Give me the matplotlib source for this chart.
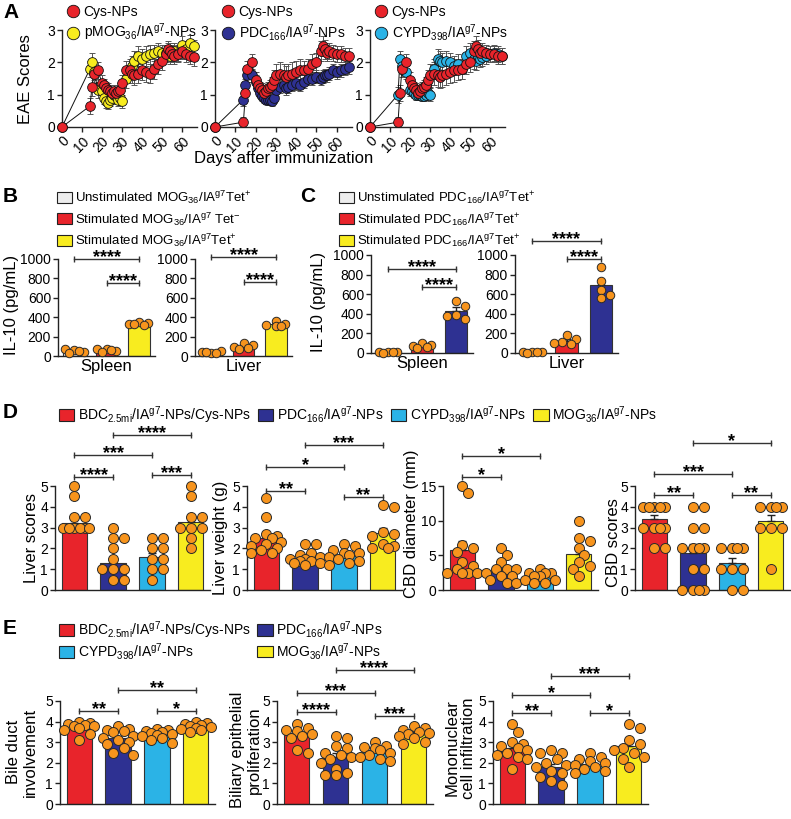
import matplotlib
matplotlib.use('Agg')
import numpy as np
import matplotlib.pyplot as plt
from matplotlib.patches import Patch
from matplotlib.lines import Line2D

plt.rcParams['font.family'] = ['Liberation Sans', 'DejaVu Sans']
plt.rcParams['mathtext.default'] = 'regular'

RED = '#E8242B'
NAVY = '#2E3192'
CYAN = '#2BB3E6'
YELLOW = '#F8EC1F'
GREY = '#EDEDED'
ORANGE = '#F7941D'
EDGE = '#333333'

# ---------------- panel A: EAE scores ----------------
eae_days = [0, 14, 15, 16, 18, 20, 21, 22, 23, 24, 25, 26, 27, 28, 29, 30, 32, 34, 35,
            36, 38, 40, 42, 44, 46, 48, 50, 52, 53, 54, 55, 56, 58, 60, 62, 64, 66]
eae_xticks = [0, 10, 20, 30, 40, 50, 60]
eae_yticks = [0, 1, 2, 3]

cys_a = [0, 0.65, 1.25, 1.65, 1.75, 1.35, 1.3, 1.2, 1.15, 1.1, 1.05, 1.1, 1.05, 1.1, 1.15, 1.35, 1.75, 1.75, 1.65,
         1.6, 1.65, 1.75, 1.7, 1.65, 1.8, 1.95, 2.05, 2.25, 2.4, 2.35, 2.25, 2.2, 2.25, 2.35, 2.25, 2.2, 2.15]
cys_a_sem = [0, 0.25, 0.3, 0.3, 0.25, 0.25, 0.2, 0.2, 0.2, 0.2, 0.2, 0.2, 0.2, 0.2, 0.2, 0.25, 0.3, 0.3, 0.3,
             0.3, 0.3, 0.3, 0.3, 0.3, 0.3, 0.3, 0.3, 0.25, 0.25, 0.25, 0.25, 0.25, 0.25, 0.25, 0.25, 0.25, 0.25]
pmog = [0, 1.8, 2.0, 1.7, 1.15, 1.1, 0.9, 0.8, 0.75, 0.85, 0.9, 1.0, 0.95, 0.85, 0.9, 0.8, 1.5, 1.8, 1.9,
        2.05, 2.2, 2.1, 2.2, 2.25, 2.3, 2.35, 2.3, 2.3, 2.35, 2.2, 2.3, 2.35, 2.3, 2.55, 2.4, 2.6, 2.5]
pmog_sem = [0, 0.25, 0.3, 0.25, 0.25, 0.2, 0.2, 0.2, 0.2, 0.2, 0.2, 0.2, 0.2, 0.2, 0.2, 0.2, 0.3, 0.3, 0.3,
            0.3, 0.3, 0.3, 0.3, 0.3, 0.25, 0.25, 0.25, 0.25, 0.25, 0.25, 0.25, 0.25, 0.25, 0.25, 0.25, 0.25, 0.2]
cys_b = [0, 0.15, 1.05, 1.8, 2.0, 1.45, 1.3, 1.2, 1.15, 1.05, 1.1, 1.2, 1.25, 1.3, 1.45, 1.6, 1.65, 1.6, 1.55,
         1.6, 1.65, 1.7, 1.75, 1.75, 1.8, 1.95, 2.0, 2.35, 2.5, 2.4, 2.3, 2.35, 2.3, 2.25, 2.25, 2.2, 2.2]
cys_b_sem = [0, 0.15, 0.25, 0.25, 0.25, 0.25, 0.2, 0.2, 0.2, 0.2, 0.2, 0.2, 0.2, 0.25, 0.3, 0.35, 0.35, 0.35, 0.35,
             0.35, 0.35, 0.35, 0.35, 0.3, 0.3, 0.3, 0.3, 0.3, 0.3, 0.3, 0.25, 0.25, 0.25, 0.25, 0.25, 0.25, 0.25]
pdc = [0, 0.85, 1.3, 1.6, 1.6, 1.4, 1.2, 1.05, 0.95, 0.9, 0.85, 0.85, 0.85, 0.8, 0.9, 1.15, 1.25, 1.3, 1.2,
       1.25, 1.3, 1.35, 1.3, 1.4, 1.5, 1.5, 1.55, 1.5, 1.55, 1.6, 1.6, 1.65, 1.75, 1.7, 1.75, 1.8, 1.85]
pdc_sem = [0, 0.2, 0.2, 0.2, 0.2, 0.2, 0.15, 0.15, 0.15, 0.15, 0.15, 0.15, 0.15, 0.15, 0.15, 0.2, 0.2, 0.2, 0.2,
           0.2, 0.2, 0.2, 0.2, 0.2, 0.2, 0.2, 0.2, 0.2, 0.2, 0.2, 0.2, 0.2, 0.2, 0.2, 0.2, 0.2, 0.2]
cypd = [0, 1.0, 2.1, 1.9, 1.7, 1.15, 1.1, 1.05, 1.0, 1.0, 1.0, 0.95, 0.95, 1.0, 1.05, 1.0, 1.8, 2.1, 2.05,
        2.0, 2.05, 2.0, 1.9, 1.95, 1.8, 2.2, 2.3, 2.1, 2.05, 2.2, 2.1, 2.15, 2.2, 2.25, 2.3, 2.25, 2.2]
cypd_sem = [0, 0.25, 0.25, 0.25, 0.2, 0.2, 0.15, 0.15, 0.15, 0.15, 0.15, 0.15, 0.15, 0.15, 0.15, 0.2, 0.3, 0.3, 0.3,
            0.3, 0.3, 0.3, 0.3, 0.3, 0.3, 0.3, 0.3, 0.3, 0.3, 0.25, 0.25, 0.25, 0.25, 0.25, 0.25, 0.25, 0.25]

# ---------------- panels B / C: IL-10 ----------------
il10_yticks = [0, 200, 400, 600, 800, 1000]
organs = ['Spleen', 'Liver']
b_spleen_mean = [55, 60, 330]
b_spleen_sem = [8, 8, 8]
b_spleen_pts = [[60, 45, 70, 35, 55], [75, 55, 70, 45, 60], [350, 340, 325, 315, 335]]
b_liver_mean = [40, 95, 325]
b_liver_sem = [6, 10, 12]
b_liver_pts = [[35, 50, 45, 30, 40], [130, 110, 95, 80, 70], [365, 335, 320, 305, 310]]
c_spleen_mean = [8, 72, 430]
c_spleen_sem = [2, 8, 35]
c_spleen_pts = [[12, 8, 10, 5, 6], [100, 85, 75, 60, 50], [530, 480, 385, 345, 375]]
c_liver_mean = [10, 127, 690]
c_liver_sem = [2, 15, 55]
c_liver_pts = [[12, 8, 15, 5, 10], [185, 140, 115, 100, 95], [880, 730, 640, 590, 560]]

# ---------------- panel D ----------------
liver_scores_mean = [3.2, 1.3, 1.6, 3.25]
liver_scores_sem = [0.2, 0.25, 0.2, 0.3]
liver_scores_pts = [[5.0, 4.5, 3.5, 3.5, 3.0, 3.0, 3.0, 3.0, 3.0, 3.0],
                    [3.0, 2.5, 2.5, 2.0, 1.5, 1.0, 1.0, 1.0, 0.5, 0.5],
                    [2.5, 2.5, 2.0, 2.0, 1.5, 1.5, 1.0, 1.0, 0.5],
                    [5.0, 4.5, 3.5, 3.5, 3.0, 3.0, 3.0, 2.5, 2.0]]
liver_weight_mean = [2.5, 1.55, 1.7, 2.75]
liver_weight_sem = [0.2, 0.08, 0.08, 0.25]
liver_weight_pts = [[4.4, 3.5, 2.7, 2.6, 2.5, 2.5, 2.3, 2.2, 2.1, 2.0, 1.9, 1.8, 1.8],
                    [2.2, 2.2, 1.8, 1.7, 1.6, 1.5, 1.5, 1.4, 1.4, 1.3, 1.3, 1.2],
                    [2.2, 2.1, 1.9, 1.8, 1.8, 1.7, 1.6, 1.5, 1.4, 1.3, 1.2],
                    [4.1, 4.0, 2.8, 2.7, 2.6, 2.2, 2.1, 2.0, 2.0]]
cbd_diam_mean = [5.8, 2.7, 1.9, 5.2]
cbd_diam_sem = [1.2, 0.45, 0.25, 0.8]
cbd_diam_pts = [[15, 14, 6.5, 6, 5.5, 4, 3.5, 3, 2.5, 2.5, 2.5, 2.5],
                [6, 5, 4, 3, 3, 3, 2.5, 2, 2, 1.5, 1, 1],
                [3, 2.5, 2.5, 2.5, 2, 2, 1.5, 1.5, 1, 1],
                [10, 7.5, 7, 6, 5, 4, 3.5, 3, 2]]
cbd_scores_mean = [3.4, 1.8, 1.3, 3.3]
cbd_scores_sem = [0.2, 0.4, 0.25, 0.3]
cbd_scores_pts = [[4, 4, 4, 4, 4, 3, 3, 3, 3, 2, 2],
                  [4, 4, 3, 3, 2, 2, 2, 2, 1, 1, 0, 0, 0, 0],
                  [2, 2, 2, 2, 1, 1, 1, 0, 0],
                  [4, 4, 4, 4, 3, 3, 3, 1]]

# ---------------- panel E ----------------
bile_mean = [3.75, 3.2, 3.4, 3.8]
bile_sem = [0.1, 0.12, 0.07, 0.06]
bile_pts = [[4.0, 3.95, 3.9, 3.85, 3.8, 3.8, 3.7, 3.6, 3.4, 3.1],
            [3.8, 3.65, 3.6, 3.55, 3.5, 3.3, 3.2, 3.1, 3.0, 2.9, 2.7, 2.5, 2.4],
            [3.65, 3.6, 3.55, 3.5, 3.45, 3.4, 3.35, 3.3, 3.2, 3.1, 2.95],
            [4.0, 3.95, 3.9, 3.85, 3.8, 3.75, 3.7, 3.65, 3.6, 3.5]]
biliary_mean = [3.35, 2.3, 2.55, 3.4]
biliary_sem = [0.15, 0.18, 0.09, 0.1]
biliary_pts = [[3.9, 3.7, 3.6, 3.55, 3.4, 3.3, 3.2, 2.6, 2.5],
               [3.3, 3.2, 2.8, 2.7, 2.5, 2.4, 2.3, 2.2, 2.0, 1.7, 1.5, 1.4, 1.4],
               [3.0, 2.8, 2.75, 2.7, 2.6, 2.5, 2.4, 2.3, 2.2, 2.1],
               [3.8, 3.7, 3.6, 3.5, 3.45, 3.4, 3.3, 3.2, 3.0, 2.9]]
mono_mean = [2.7, 1.8, 1.95, 2.8]
mono_sem = [0.15, 0.15, 0.08, 0.2]
mono_pts = [[3.9, 3.5, 3.0, 2.9, 2.8, 2.7, 2.6, 2.5, 2.4, 2.3, 2.2, 1.7],
            [2.6, 2.5, 2.5, 2.2, 2.0, 1.9, 1.8, 1.6, 1.5, 1.3, 1.1, 0.9],
            [2.5, 2.3, 2.2, 2.1, 2.0, 1.9, 1.8, 1.7, 1.6, 1.5],
            [3.9, 3.7, 3.1, 2.9, 2.7, 2.6, 2.5, 2.3, 2.2, 1.8]]
score_yticks = [0, 1, 2, 3, 4, 5]

group_labels = ['BDC$_{2.5mi}$/IA$^{g7}$-NPs/Cys-NPs', 'PDC$_{166}$/IA$^{g7}$-NPs',
                'CYPD$_{398}$/IA$^{g7}$-NPs', 'MOG$_{36}$/IA$^{g7}$-NPs']
group_colors = [RED, NAVY, CYAN, YELLOW]

W, H = 791, 819
fig = plt.figure(figsize=(W / 100, H / 100), dpi=100)
axes_px = {}


def add_ax(x0, x1, ytop, ybot):
    ax = fig.add_axes([x0 / W, 1 - ybot / H, (x1 - x0) / W, (ybot - ytop) / H])
    axes_px[ax] = (x1 - x0, ybot - ytop)
    ax.spines['top'].set_visible(False)
    ax.spines['right'].set_visible(False)
    for s in ('left', 'bottom'):
        ax.spines[s].set_linewidth(1.0)
        ax.spines[s].set_color('#222222')
    ax.tick_params(direction='out', length=3.5, width=1, color='#222222', labelsize=10, pad=1.5)
    return ax


def spread(vals, dy):
    # side-by-side offsets (in dot diameters) for dots with close values
    cands = [0, 0.55, -0.55, 1.1, -1.1, 1.5, -1.5]
    offs = []
    for k, v in enumerate(vals):
        best, best_d = 0, -1
        for c in cands:
            d = min([np.hypot(c - o, (v - w) / dy) for o, w in zip(offs, vals[:k])], default=9)
            if d >= 0.85:
                best = c
                break
            if d > best_d:
                best, best_d = c, d
        offs.append(best)
    return np.array(offs)


def bar_panel(ax, means, sems, points, colors, ymax, yticks, brackets, dot_px=10):
    n = len(means)
    x = np.arange(n)
    ax.set_xlim(-0.5, n - 0.5)
    ax.set_ylim(0, ymax)
    ax.bar(x, means, width=0.66, color=colors, edgecolor=EDGE, linewidth=0.8, zorder=1)
    ax.errorbar(x, means, yerr=[np.zeros(n), sems], fmt='none', ecolor='#222222',
                elinewidth=1, capsize=3, capthick=1, zorder=2)
    wpx, hpx = axes_px[ax]
    dx = dot_px * n / wpx
    dy = dot_px * ymax / hpx
    for i, vals in enumerate(points):
        offs = spread(vals, dy)
        ax.scatter(i + offs * dx, vals, s=(dot_px / 1.39) ** 2, color=ORANGE, edgecolor='#2a2a2a',
                   linewidth=0.7, zorder=3, clip_on=False)
    ax.set_xticks([])
    ax.set_yticks(yticks)
    for i, j, y, label in brackets:
        ax.plot([i, j], [y, y], color='#333333', lw=1, marker='|', ms=5, mew=1, clip_on=False)
        ax.annotate(label, ((i + j) / 2, y), xytext=(0, -2), textcoords='offset points',
                    ha='center', va='baseline', fontsize=13, fontweight='bold', annotation_clip=False)


def eae_panel(ax, treat, treat_sem, treat_color, cys, cys_sem, treat_label, leg_x):
    ax.set_xlim(0, 67.5)
    ax.set_ylim(0, 3)
    for vals, sem, col in ((treat, treat_sem, treat_color), (cys, cys_sem, RED)):
        ax.errorbar(eae_days, vals, yerr=sem, fmt='none', ecolor='#555555', elinewidth=0.7,
                    capsize=2, capthick=0.7, zorder=1)
        ax.plot(eae_days, vals, color='#111111', lw=0.7, zorder=2)
        ax.plot(eae_days, vals, 'o', ms=7, mfc=col, mec='#111111', mew=0.6, zorder=3, clip_on=False)
    ax.set_xticks(eae_xticks)
    ax.set_xticklabels([str(v) for v in eae_xticks], rotation=45, ha='right', rotation_mode='anchor',
                       fontsize=10)
    ax.set_yticks(eae_yticks)
    handles = [Line2D([], [], ls='none', marker='o', ms=9, mfc=RED, mec='#111111', mew=0.6),
               Line2D([], [], ls='none', marker='o', ms=9, mfc=treat_color, mec='#111111', mew=0.6)]
    fig.legend(handles, ['Cys-NPs', treat_label], loc='upper left', bbox_to_anchor=(leg_x / W, 1 - 5 / H),
               frameon=False, fontsize=10, handlelength=0.9, handletextpad=0.3, labelspacing=0.2,
               borderpad=0, borderaxespad=0)


# panel A
a1 = add_ax(62, 197, 30, 127)
eae_panel(a1, pmog, pmog_sem, YELLOW, cys_a, cys_a_sem, 'pMOG$_{36}$/IA$^{g7}$-NPs', 67)
a2 = add_ax(215, 352, 30, 127)
eae_panel(a2, pdc, pdc_sem, NAVY, cys_b, cys_b_sem, 'PDC$_{166}$/IA$^{g7}$-NPs', 222)
a3 = add_ax(370, 505, 30, 127)
eae_panel(a3, cypd, cypd_sem, CYAN, cys_b, cys_b_sem, 'CYPD$_{398}$/IA$^{g7}$-NPs', 375)
fig.text(26 / W, 1 - 79 / H, 'EAE Scores', rotation=90, ha='center', va='center', fontsize=12)
fig.text(284 / W, 1 - 158 / H, 'Days after immunization', ha='center', va='center', fontsize=12)


def box(c):
    return Patch(facecolor=c, edgecolor='#222222', linewidth=0.8)


# panel B
b_labels = ['Unstimulated MOG$_{36}$/IA$^{g7}$Tet$^{+}$', 'Stimulated MOG$_{36}$/IA$^{g7}$ Tet$^{-}$',
            'Stimulated MOG$_{36}$/IA$^{g7}$Tet$^{+}$']
fig.legend([box(GREY), box(RED), box(YELLOW)], b_labels, loc='upper left', bbox_to_anchor=(57 / W, 1 - 189 / H),
           frameon=False, fontsize=9.5, handlelength=1.1, handleheight=0.9, handletextpad=0.25,
           labelspacing=0.3, borderpad=0, borderaxespad=0)
bs = add_ax(58, 155, 259, 356)
bar_panel(bs, b_spleen_mean, b_spleen_sem, b_spleen_pts, [GREY, RED, YELLOW], 1000, il10_yticks,
          [(0, 2, 1000, '****'), (1, 2, 753, '****')], dot_px=8.5)
bl = add_ax(195, 292, 259, 356)
bar_panel(bl, b_liver_mean, b_liver_sem, b_liver_pts, [GREY, RED, YELLOW], 1000, il10_yticks,
          [(0, 2, 1020, '****'), (1, 2, 763, '****')], dot_px=8.5)

# panel C
c_labels = ['Unstimulated PDC$_{166}$/IA$^{g7}$Tet$^{+}$', 'Stimulated PDC$_{166}$/IA$^{g7}$Tet$^{+}$',
            'Stimulated PDC$_{166}$/IA$^{g7}$Tet$^{+}$']
fig.legend([box(GREY), box(RED), box(YELLOW)], c_labels, loc='upper left', bbox_to_anchor=(339 / W, 1 - 189 / H),
           frameon=False, fontsize=9.5, handlelength=1.1, handleheight=0.9, handletextpad=0.25,
           labelspacing=0.3, borderpad=0, borderaxespad=0)
cs = add_ax(371, 473, 255, 353)
bar_panel(cs, c_spleen_mean, c_spleen_sem, c_spleen_pts, [GREY, RED, NAVY], 1000, il10_yticks,
          [(0, 2, 857, '****'), (1, 2, 673, '****')], dot_px=8.5)
cl = add_ax(515, 618, 255, 353)
bar_panel(cl, c_liver_mean, c_liver_sem, c_liver_pts, [GREY, RED, NAVY], 1000, il10_yticks,
          [(0, 2, 1143, '****'), (1, 2, 959, '****')], dot_px=8.5)
for ax, organ in zip((bs, bl, cs, cl), organs * 2):
    ax.set_xlabel(organ, fontsize=12, labelpad=2)
fig.text(12 / W, 1 - 305 / H, 'IL-10 (pg/mL)', rotation=90, ha='center', va='center', fontsize=12)
fig.text(318 / W, 1 - 302 / H, 'IL-10 (pg/mL)', rotation=90, ha='center', va='center', fontsize=12)

# panel D
fig.legend([box(c) for c in group_colors], group_labels, loc='upper left', ncol=4,
           bbox_to_anchor=(59 / W, 1 - 404 / H), frameon=False, fontsize=10, handlelength=1.1,
           handleheight=0.9, handletextpad=0.25, columnspacing=0.55, borderpad=0, borderaxespad=0)
d1 = add_ax(55, 210, 486, 590)
bar_panel(d1, liver_scores_mean, liver_scores_sem, liver_scores_pts, group_colors, 5, score_yticks,
          [(0, 1, 5.43, '****'), (2, 3, 5.53, '***'), (0, 2, 6.49, '***'), (1, 3, 7.45, '****')])
d2 = add_ax(247, 402, 486, 590)
bar_panel(d2, liver_weight_mean, liver_weight_sem, liver_weight_pts, group_colors, 5, score_yticks,
          [(0, 1, 4.75, '**'), (2, 3, 4.47, '**'), (0, 2, 5.91, '*'), (1, 3, 6.97, '***')])
d3 = add_ax(443, 598, 486, 590)
bar_panel(d3, cbd_diam_mean, cbd_diam_sem, cbd_diam_pts, group_colors, 15, [0, 5, 10, 15],
          [(0, 1, 16.3, '*'), (0, 2, 19.3, '*')])
d4 = add_ax(635, 790, 486, 590)
bar_panel(d4, cbd_scores_mean, cbd_scores_sem, cbd_scores_pts, group_colors, 5, score_yticks,
          [(0, 1, 4.57, '**'), (2, 3, 4.57, '**'), (0, 2, 5.58, '***'), (1, 3, 7.07, '*')])
fig.text(32 / W, 1 - 538 / H, 'Liver scores', rotation=90, ha='center', va='center', fontsize=12)
fig.text(220 / W, 1 - 538 / H, 'Liver weight (g)', rotation=90, ha='center', va='center', fontsize=12)
fig.text(411 / W, 1 - 524 / H, 'CBD diameter (mm)', rotation=90, ha='center', va='center', fontsize=12)
fig.text(613 / W, 1 - 543 / H, 'CBD scores', rotation=90, ha='center', va='center', fontsize=12)

# panel E
e_order = [0, 2, 1, 3]
fig.legend([box(group_colors[i]) for i in e_order], [group_labels[i] for i in e_order], loc='upper left',
           ncol=2, bbox_to_anchor=(59 / W, 1 - 619 / H), frameon=False, fontsize=10, handlelength=1.1,
           handleheight=0.9, handletextpad=0.25, columnspacing=0.5, labelspacing=0.05,
           borderpad=0, borderaxespad=0)
e1 = add_ax(60, 215, 701, 804)
bar_panel(e1, bile_mean, bile_sem, bile_pts, group_colors, 5, score_yticks,
          [(0, 1, 4.51, '**'), (2, 3, 4.51, '*'), (1, 3, 5.53, '**')])
e2 = add_ax(277, 433, 701, 804)
bar_panel(e2, biliary_mean, biliary_sem, biliary_pts, group_colors, 5, score_yticks,
          [(0, 1, 4.47, '****'), (0, 2, 5.39, '***'), (1, 3, 6.5, '****'), (2, 3, 4.27, '***')])
e3 = add_ax(493, 648, 701, 804)
bar_panel(e3, mono_mean, mono_sem, mono_pts, group_colors, 5, score_yticks,
          [(0, 1, 4.42, '**'), (0, 2, 5.29, '*'), (1, 3, 6.21, '***'), (2, 3, 4.42, '*')])
fig.text(22 / W, 1 - 752 / H, 'Bile duct\ninvolvement', rotation=90, ha='center', va='center',
         fontsize=12, linespacing=1.1, multialignment='center')
fig.text(246 / W, 1 - 750 / H, 'Biliary epithelial\nproliferation', rotation=90, ha='center', va='center',
         fontsize=12, linespacing=1.1, multialignment='center')
fig.text(460 / W, 1 - 748 / H, 'Mononuclear\ncell infiltration', rotation=90, ha='center', va='center',
         fontsize=12, linespacing=1.1, multialignment='center')

# panel letters
for letter, x, y in (('A', 3, 13), ('B', 3, 197), ('C', 300, 197), ('D', 3, 412), ('E', 3, 628)):
    fig.text(x / W, 1 - y / H, letter, fontsize=15, fontweight='bold', ha='left', va='center')

fig.savefig('out.png', dpi=100)
